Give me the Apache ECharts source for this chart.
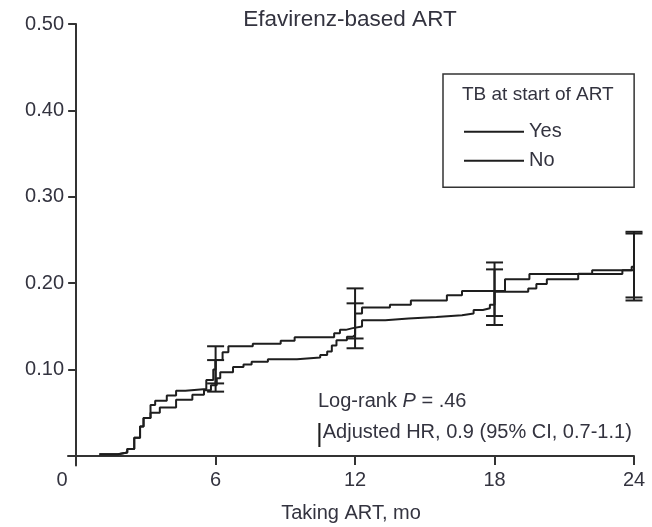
<!DOCTYPE html>
<html>
<head>
<meta charset="utf-8">
<title>Efavirenz-based ART</title>
<script src="https://cdn.jsdelivr.net/npm/echarts@6/dist/echarts.min.js"></script>
<style>
  html, body { margin: 0; padding: 0; background: #fff; }
  #chart { width: 652px; height: 527px; }
</style>
</head>
<body>
<div id="chart"></div>
<script>
// Cumulative incidence, step curves (time in months, proportion)
const yesTimes  = [1.0, 1.8, 2.2, 2.5, 2.75, 2.9, 3.2, 3.4, 3.9, 4.3, 4.7, 5.6, 5.9, 6.0, 6.3, 6.55, 7.6, 8.8, 9.4, 11.1, 11.35, 11.6, 11.9, 12.3, 13.3, 14.3, 15.5, 16.6, 17.1, 17.5, 17.8, 18.0, 19.45, 19.8, 20.25, 21.6, 22.2, 24.0];
const yesValues = [0.002, 0.004, 0.008, 0.021, 0.034, 0.044, 0.059, 0.064, 0.070, 0.0756, 0.0775, 0.088, 0.100, 0.111, 0.120, 0.127, 0.130, 0.1335, 0.1375, 0.142, 0.146, 0.148, 0.150, 0.157, 0.159, 0.161, 0.163, 0.165, 0.169, 0.171, 0.175, 0.190, 0.194, 0.199, 0.2045, 0.211, 0.215, 0.215];

const noTimes  = [1.0, 1.8, 2.2, 2.5, 2.75, 2.9, 3.2, 3.6, 4.3, 5.0, 5.5, 5.8, 6.05, 6.2, 6.75, 7.2, 7.55, 8.25, 9.5, 10.5, 10.8, 11.0, 11.2, 11.65, 11.9, 12.0, 12.3, 13.5, 14.4, 15.95, 16.6, 18.45, 19.5, 23.5, 23.9, 24.0];
const noValues = [0.002, 0.004, 0.008, 0.021, 0.034, 0.044, 0.050, 0.056, 0.065, 0.071, 0.076, 0.082, 0.090, 0.097, 0.103, 0.106, 0.109, 0.112, 0.114, 0.117, 0.121, 0.128, 0.134, 0.138, 0.140, 0.165, 0.172, 0.175, 0.180, 0.186, 0.191, 0.2045, 0.2106, 0.215, 0.219, 0.219];

// 95% confidence limits at 6-month landmarks
const ciTimes   = [6, 12, 18, 24];
const yesCiLow  = [0.084, 0.136, 0.162, 0.1835];
const yesCiHigh = [0.127, 0.194, 0.224, 0.2595];
const noCiLow   = [0.0745, 0.1247, 0.1516, 0.180];
const noCiHigh  = [0.111, 0.1767, 0.216, 0.2575];

// Axis ticks
const xTicks = [0, 6, 12, 18, 24];
const yTicks = [0.1, 0.2, 0.3, 0.4, 0.5];

const legendNames = ['Yes', 'No'];
const titleText = 'Efavirenz-based ART';
const xAxisName = 'Taking ART, mo';
const legendTitle = 'TB at start of ART';

const FONT = '"Liberation Sans", Arial, Helvetica, sans-serif';
const INK = '#1e1e1e';
const TEXT = '#33333f';

const toPairs = (xs, ys) => xs.map((x, i) => [x, ys[i]]);
const toCi = (xs, lo, hi) => xs.map((x, i) => [x, lo[i], hi[i]]);

// Vertical interval with end caps, placed through the axes' scales
function renderCi(params, api) {
  const x = api.value(0);
  const lo = api.coord([x, api.value(1)]);
  const hi = api.coord([x, api.value(2)]);
  const half = 8.5;
  const style = { stroke: INK, lineWidth: 2 };
  return {
    type: 'group',
    children: [
      { type: 'line', shape: { x1: lo[0], y1: lo[1], x2: hi[0], y2: hi[1] }, style },
      { type: 'line', shape: { x1: lo[0] - half, y1: lo[1], x2: lo[0] + half, y2: lo[1] }, style },
      { type: 'line', shape: { x1: hi[0] - half, y1: hi[1], x2: hi[0] + half, y2: hi[1] }, style }
    ]
  };
}

const chart = echarts.init(document.getElementById('chart'), null, { renderer: 'canvas' });

chart.setOption({
  animation: false,
  backgroundColor: '#fff',
  textStyle: { fontFamily: FONT, color: TEXT },
  grid: { left: 68, right: 18, top: 24, bottom: 61.5, outerBoundsMode: 'none' },
  title: {
    text: legendTitle,
    left: 462, top: 85, padding: 0,
    textStyle: { fontFamily: FONT, fontSize: 19, fontWeight: 'normal', color: TEXT }
  },
  legend: {
    data: legendNames,
    orient: 'vertical',
    left: 443, top: 74,
    padding: [47.7, 72.5, 16.6, 20],
    itemWidth: 60, itemHeight: 14, itemGap: 9,
    borderColor: '#333', borderWidth: 1.5, borderRadius: 0,
    selectedMode: false,
    itemStyle: { opacity: 0 },
    lineStyle: { width: 2, color: INK },
    textStyle: { fontFamily: FONT, fontSize: 20, color: TEXT }
  },
  xAxis: {
    type: 'value',
    min: -0.35, max: 24,
    splitLine: { show: false },
    axisLine: { onZero: true, lineStyle: { color: '#333', width: 2 } },
    axisTick: { show: true, length: 9, customValues: xTicks, lineStyle: { color: '#333', width: 2 } },
    axisLabel: {
      customValues: xTicks,
      margin: 5,
      fontSize: 20,
      fontFamily: FONT,
      color: TEXT,
      formatter: v => (v === 0 ? '{z|0}' : String(v)),
      rich: { z: { fontSize: 20, fontFamily: FONT, color: TEXT, padding: [0, 28, 0, 0] } }
    },
    name: xAxisName,
    nameLocation: 'middle',
    nameGap: 38,
    nameTextStyle: { fontFamily: FONT, fontSize: 20, color: TEXT }
  },
  yAxis: {
    type: 'value',
    min: -0.011, max: 0.5,
    splitLine: { show: false },
    axisLine: { onZero: true, lineStyle: { color: '#333', width: 2 } },
    axisTick: { show: true, length: 8, customValues: yTicks, lineStyle: { color: '#333', width: 2 } },
    axisLabel: {
      customValues: yTicks,
      margin: 4,
      fontSize: 20,
      fontFamily: FONT,
      color: TEXT,
      formatter: v => v.toFixed(2)
    }
  },
  graphic: [
    {
      type: 'text', x: 350, y: 8,
      style: { text: titleText, align: 'center', verticalAlign: 'top', fontFamily: FONT, fontSize: 22.5, fill: TEXT }
    },
    {
      type: 'text', x: 318, y: 391,
      style: {
        text: '{a|Log-rank }{i|P}{a| = .46}',
        verticalAlign: 'top',
        rich: {
          a: { fontFamily: FONT, fontSize: 20, fill: TEXT },
          i: { fontFamily: FONT, fontSize: 20, fontStyle: 'italic', fill: TEXT }
        }
      }
    },
    {
      type: 'text', x: 316, y: 416,
      style: {
        text: '{b||}{a|Adjusted HR, 0.9 (95% CI, 0.7-1.1)}',
        verticalAlign: 'top',
        rich: {
          b: { fontFamily: FONT, fontSize: 26, fill: INK, padding: [6, 0, 0, 0] },
          a: { fontFamily: FONT, fontSize: 20, fill: TEXT }
        }
      }
    }
  ],
  series: [
    {
      name: 'Yes', type: 'line', step: 'end',
      data: toPairs(yesTimes, yesValues),
      symbol: 'none', color: INK,
      lineStyle: { color: INK, width: 2 }
    },
    {
      name: 'No', type: 'line', step: 'end',
      data: toPairs(noTimes, noValues),
      symbol: 'none', color: INK,
      lineStyle: { color: INK, width: 2 }
    },
    {
      name: 'Yes CI', type: 'custom', renderItem: renderCi,
      data: toCi(ciTimes, yesCiLow, yesCiHigh), z: 3
    },
    {
      name: 'No CI', type: 'custom', renderItem: renderCi,
      data: toCi(ciTimes, noCiLow, noCiHigh), z: 3
    }
  ]
});
</script>
</body>
</html>
